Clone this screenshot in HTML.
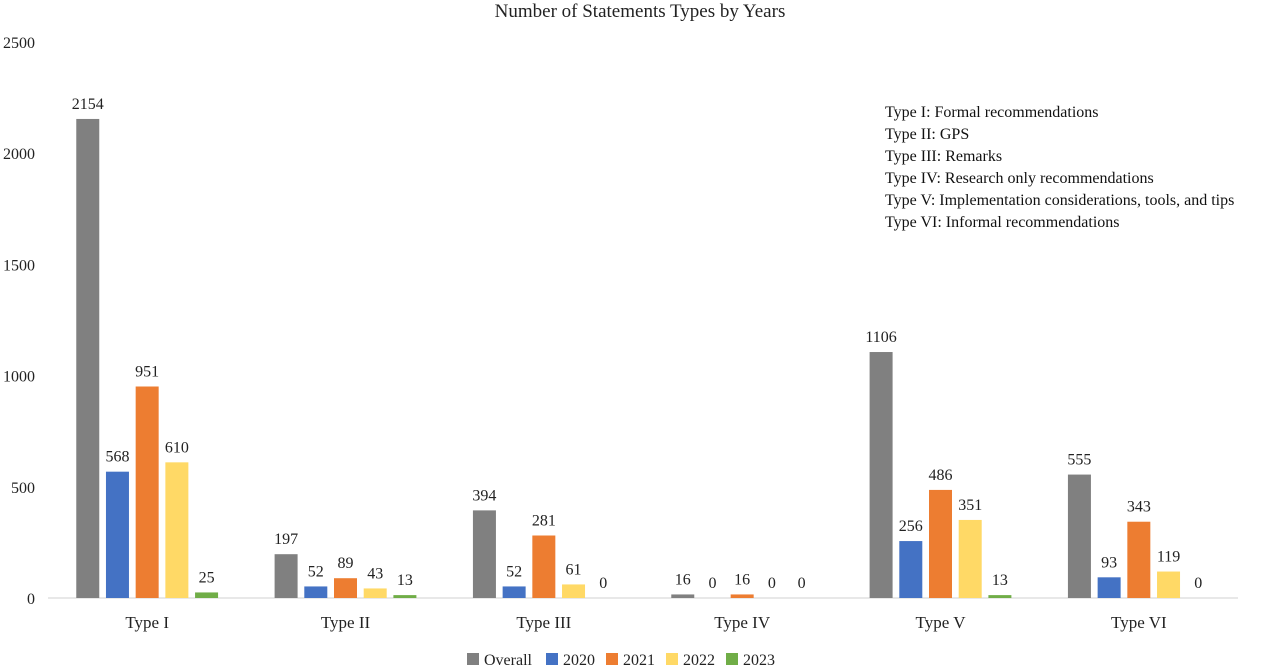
<!DOCTYPE html>
<html><head><meta charset="utf-8"><style>
body{margin:0;background:#fff;}
svg{display:block;font-family:"Liberation Serif",serif;}
</style></head><body>
<svg id="c" width="1280" height="666">
<text x="640" y="17" text-anchor="middle" font-size="19" fill="#222">Number of  Statements Types by Years</text>
<g id="notes" font-size="16" fill="#111">
<text x="885" y="117">Type I: Formal recommendations</text>
<text x="885" y="139">Type II: GPS</text>
<text x="885" y="161">Type III: Remarks</text>
<text x="885" y="183">Type IV: Research only recommendations</text>
<text x="885" y="205">Type V: Implementation considerations, tools, and tips</text>
<text x="885" y="227">Type VI: Informal recommendations</text>
</g>
</svg>
<script>
const categories=["Type I","Type II","Type III","Type IV","Type V","Type VI"];
const seriesNames=["Overall","2020","2021","2022","2023"];
const overall=[2154,197,394,16,1106,555];
const y2020=[568,52,52,0,256,93];
const y2021=[951,89,281,16,486,343];
const y2022=[610,43,61,0,351,119];
const y2023=[25,13,0,0,13,0];
const yTicks=[0,500,1000,1500,2000,2500];
const colors=["#808080","#4472C4","#ED7D31","#FFD966","#70AD47"];
const series=[overall,y2020,y2021,y2022,y2023];
const NS="http://www.w3.org/2000/svg";
const svg=document.getElementById('c');
const x0=48,x1=1238,yBase=598,yTop=42,yMax=2500;
const yS=v=>yBase-(v/yMax)*(yBase-yTop);
const band=(x1-x0)/categories.length;
const xC=i=>x0+band*(i+0.5);
function mk(t,a){const e=document.createElementNS(NS,t);for(const k in a)e.setAttribute(k,a[k]);svg.appendChild(e);return e;}
yTicks.forEach(t=>{
  const e=mk('text',{x:35,y:yS(t)+6,'text-anchor':'end','font-size':16,fill:'#222'});
  e.textContent=t;
  
  
});
const ax=mk('line',{x1:x0,x2:x1,y1:yBase,y2:yBase,stroke:'#d0d0d0','stroke-width':1});


const bw=23,step=29.7;
categories.forEach((c,i)=>{
  const cx=xC(i);
  series.forEach((s,j)=>{
    const bx=cx+(j-2)*step-bw/2;
    const v=s[i];
    const r=mk('rect',{x:bx,y:yS(v),width:bw,height:yBase-yS(v),fill:colors[j]});
    
    
    const l=mk('text',{x:bx+bw/2,y:yS(v)-10,'text-anchor':'middle','font-size':16,fill:'#222'});
    l.textContent=v;
    
    
  });
  const t=mk('text',{x:cx,y:628,'text-anchor':'middle','font-size':17,fill:'#222'});
  t.textContent=c;
  
  
});
const lx=[467,546,606,666,726];
seriesNames.forEach((n,j)=>{
  const r=mk('rect',{x:lx[j],y:653,width:12,height:12,fill:colors[j]});
  
  
  const t=mk('text',{x:lx[j]+17,y:665,'font-size':16,fill:'#222'});
  t.textContent=n;
  
  
});
</script>
</body></html>
